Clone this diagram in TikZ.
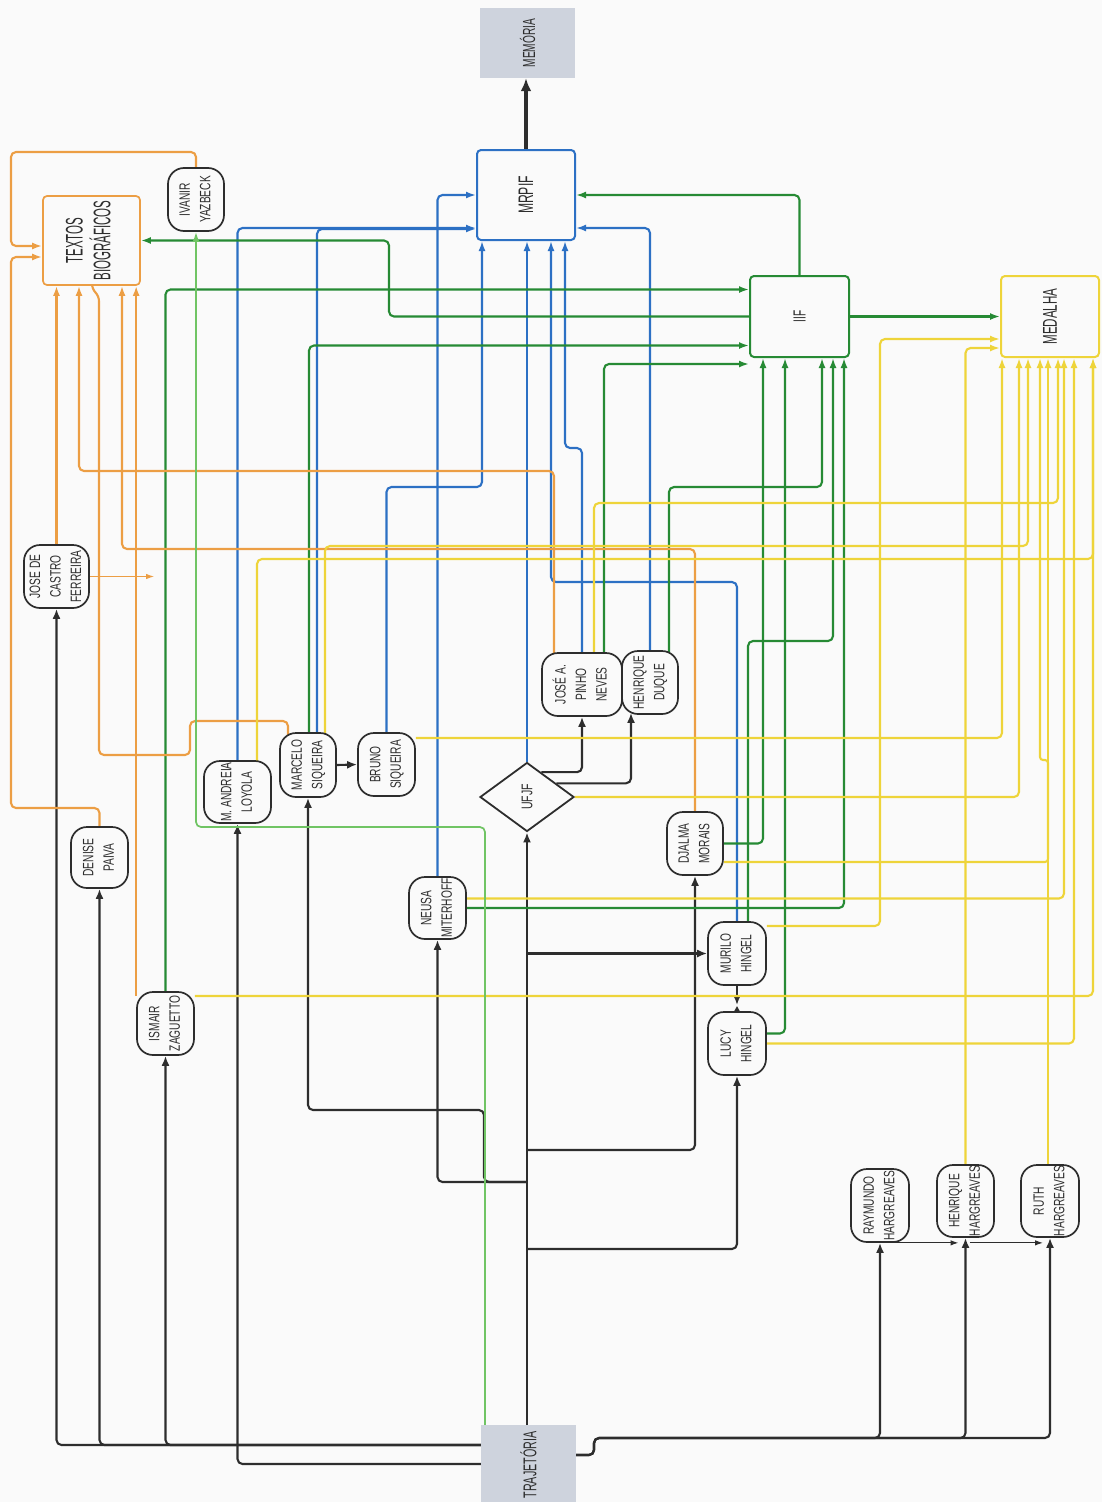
\documentclass[tikz,border=0pt]{standalone}
\usepackage{fontspec}
\setmainfont[FakeStretch=0.68]{Liberation Sans}
\newfontfamily\hubsans[FakeStretch=0.58]{Liberation Sans}
\newfontfamily\narrowsans[FakeStretch=0.48]{Liberation Sans}
\usepackage{graphicx}
\usetikzlibrary{arrows.meta,shapes.geometric,calc}

\definecolor{ink}{RGB}{45,45,45}
\definecolor{cblue}{RGB}{44,112,196}
\definecolor{cgreen}{RGB}{38,138,52}
\definecolor{clight}{RGB}{112,196,100}
\definecolor{corange}{RGB}{236,158,68}
\definecolor{cyellow}{RGB}{238,212,58}
\definecolor{boxgray}{RGB}{206,211,221}
\definecolor{paper}{RGB}{250,250,250}

% two or more lines of text set sideways, reading upwards
\newcommand\vlabel[1]{\rotatebox{90}{\begin{tabular}{@{}c@{}}#1\end{tabular}}}

\pgfdeclarelayer{backdrop}
\pgfdeclarelayer{wires}
\pgfsetlayers{backdrop,wires,main}

\tikzset{
  person/.style={draw=ink, line width=1.7pt, rounded corners=16pt, fill=paper,
    inner sep=0pt, text=ink, font=\fontsize{15}{20.5}\selectfont},
  hub/.style={draw, line width=2pt, rounded corners=4pt, fill=paper,
    inner sep=0pt, text=ink},
  greybox/.style={fill=boxgray, draw=none, inner sep=0pt, text=ink},
  wire/.style={line width=2.1pt, rounded corners=5pt, -{Latex[length=10pt,width=7pt]}},
  bk/.style={wire, draw=ink, -{Latex[length=10pt,width=8pt]}},
  bl/.style={wire, draw=cblue},
  gr/.style={wire, draw=cgreen},
  lg/.style={wire, draw=clight, line width=1.7pt},
  og/.style={wire, draw=corange},
  yl/.style={wire, draw=cyellow},
}

\begin{document}
\begin{tikzpicture}[x=1pt, y=-1pt]
\useasboundingbox (0,0) rectangle (1102,1502);
\begin{pgfonlayer}{backdrop}
  \fill[paper] (0,0) rectangle (1102,1502);
\end{pgfonlayer}

% ---------- hubs ----------
\node[greybox, minimum width=95pt, minimum height=70pt, font=\hubsans\fontsize{17.5}{20}\selectfont]
  (memoria) at (527.5,43) {\rotatebox{90}{MEMÓRIA}};
\node[hub, draw=cblue, minimum width=98pt, minimum height=90pt, font=\hubsans\fontsize{21}{24}\selectfont]
  (mrpif) at (526,195) {\rotatebox{90}{MRPIF}};
\node[hub, draw=corange, line width=1.7pt, minimum width=97pt, minimum height=89pt,
  font=\narrowsans\fontsize{24}{23}\selectfont]
  (textos) at (91.5,240.5) {\vlabel{TEXTOS\\BIOGRÁFICOS}};
\node[hub, draw=cgreen, minimum width=99pt, minimum height=81pt, font=\hubsans\fontsize{17.5}{20}\selectfont]
  (iif) at (799.5,316.5) {\rotatebox{90}{IIF}};
\node[hub, draw=cyellow, minimum width=98pt, minimum height=81pt, font=\hubsans\fontsize{20}{22}\selectfont]
  (medalha) at (1050,316.5) {\rotatebox{90}{MEDALHA}};
\node[diamond, draw=ink, line width=1.8pt, fill=paper, minimum width=94pt, minimum height=69pt,
  inner sep=0pt, text=ink, font=\fontsize{15.5}{18}\selectfont]
  (ufjf) at (527,797) {\rotatebox{90}{UFJF}};
\node[greybox, minimum width=95pt, minimum height=80pt, font=\hubsans\fontsize{18.5}{20}\selectfont]
  (trajetoria) at (528.5,1465) {\rotatebox{90}{TRAJETÓRIA}};

% ---------- people ----------
\node[person, minimum width=56pt, minimum height=63pt] (ivanir) at (196,199.5) {\vlabel{IVANIR\\YAZBECK}};
\node[person, minimum width=65pt, minimum height=63pt] (josecastro) at (56.5,576.5) {\vlabel{JOSE DE\\CASTRO\\FERREIRA}};
\node[person, minimum width=57pt, minimum height=61pt] (denise) at (99.5,857.5) {\vlabel{DENISE\\PAIVA}};
\node[person, minimum width=67pt, minimum height=62pt] (loyola) at (237.5,792) {\vlabel{M. ANDREIA\\LOYOLA}};
\node[person, minimum width=56pt, minimum height=64pt] (marcelo) at (308,765) {\vlabel{MARCELO\\SIQUEIRA}};
\node[person, minimum width=57pt, minimum height=63pt] (bruno) at (386.5,764.5) {\vlabel{BRUNO\\SIQUEIRA}};
\node[person, minimum width=80pt, minimum height=63pt] (josepinho) at (582,684.5) {\vlabel{JOSÉ A.\\PINHO\\NEVES}};
\node[person, minimum width=56pt, minimum height=63pt] (henduque) at (650,682.5) {\vlabel{HENRIQUE\\DUQUE}};
\node[person, minimum width=56pt, minimum height=63pt] (djalma) at (695,843.5) {\vlabel{DJALMA\\MORAIS}};
\node[person, minimum width=57pt, minimum height=62pt] (neusa) at (437.5,908) {\vlabel{NEUSA\\MITERHOFF}};
\node[person, minimum width=57pt, minimum height=63pt] (ismair) at (165.5,1023.5) {\vlabel{ISMAIR\\ZAGUETTO}};
\node[person, minimum width=58pt, minimum height=63pt] (murilo) at (737,953.5) {\vlabel{MURILO\\HINGEL}};
\node[person, minimum width=58pt, minimum height=63pt] (lucy) at (737,1043.5) {\vlabel{LUCY\\HINGEL}};
\node[person, minimum width=58pt, minimum height=73pt] (raymundo) at (880,1205.5) {\vlabel{RAYMUNDO\\HARGREAVES}};
\node[person, minimum width=57pt, minimum height=72pt] (henriqueh) at (965.5,1201) {\vlabel{HENRIQUE\\HARGREAVES}};
\node[person, minimum width=58pt, minimum height=72pt] (ruth) at (1050,1201) {\vlabel{RUTH\\HARGREAVES}};

\coordinate (castrotip) at (154,576.5);

\begin{pgfonlayer}{wires}
% ---------- black: trajectory tree ----------
\draw[bk, line width=3.2pt, -{Latex[length=13pt,width=11pt]}] (mrpif.north) -- (mrpif.north |- memoria.south);
\draw[bk] (trajetoria.west |- 0,1445) -| (josecastro.south);
\draw[bk] (trajetoria.west |- 0,1445) -| (denise.south);
\draw[bk] (trajetoria.west |- 0,1445) -| (ismair.south);
\draw[bk] (trajetoria.west |- 0,1464) -| (loyola.south);
\draw[bk] (ufjf.south |- trajetoria.north) -- (ufjf.south);
\draw[bk] (ufjf.south |- 0,1182) -| (neusa.south);
\draw[bk] (ufjf.south |- 0,1182) -- (484,1182) -- (484,1110) -| (marcelo.south);
\draw[bk] (ufjf.south |- murilo.west) -- (murilo.west);
\draw[bk] (ufjf.south |- 0,1150) -| (djalma.south);
\draw[bk] (ufjf.south |- 0,1249) -| (lucy.south);
\draw[bk] (ufjf.60) -| (josepinho.south);
\draw[bk] (ufjf.25) -| ([xshift=-19pt,yshift=2pt]henduque.south);
\draw[bk] (marcelo.east) -- (bruno.west);
\draw[bk] (murilo.south) -- ([yshift=6pt]lucy.north);
\fill[ink] ([xshift=-4.5pt,yshift=-3pt]lucy.north) -- ([xshift=4.5pt,yshift=-3pt]lucy.north)
  -- ([yshift=5pt]lucy.north) -- cycle;
\draw[bk] (trajetoria.east |- 0,1455) -- (594,1455) -- (594,1438) -| (raymundo.south);
\draw[bk] (trajetoria.east |- 0,1455) -- (594,1455) -- (594,1438) -| (henriqueh.south);
\draw[bk] (trajetoria.east |- 0,1455) -- (594,1455) -- (594,1438) -| (ruth.south);
\draw[bk, line width=1.1pt, -{Latex[length=8pt,width=5.5pt]}]
  ($(raymundo.south)+(4,0)$) -- ($(henriqueh.south |- raymundo.south)+(-7,0)$);
\draw[bk, line width=1.1pt, -{Latex[length=8pt,width=5.5pt]}]
  ($(henriqueh.south |- raymundo.south)+(4,0)$) -- ($(ruth.south |- raymundo.south)+(-7,0)$);

% ---------- blue: into MRPIF ----------
\draw[bl] (ufjf.north) -- (ufjf.north |- mrpif.south);
\draw[bl] (neusa.north) |- (mrpif.west);
\draw[bl] (loyola.north) |- ([yshift=-33pt]mrpif.west);
\draw[bl] ([xshift=9pt]marcelo.north) |- ([yshift=-34pt]mrpif.west);
\draw[bl] (bruno.north) -- (bruno.north |- 0,487) -| ([xshift=-44pt]mrpif.south);
\draw[bl] (murilo.north) -- (murilo.north |- 0,582) -| ([xshift=25pt]mrpif.south);
\draw[bl] (josepinho.north) -- (582,448) -- (565,448) -- ([xshift=39pt]mrpif.south);
\draw[bl] (henduque.north) |- ([yshift=-33pt]mrpif.east);

% ---------- dark green: IIF ----------
\draw[gr] (iif.north) |- (mrpif.east);
\draw[gr] (iif.east) -- (medalha.west);
\draw[gr] (iif.west) -- (iif.west -| 389,0) -- (textos.east -| 389,0) -- (textos.east);
\draw[gr] (ismair.north) |- ([yshift=27pt]iif.west);
\draw[gr] ([xshift=1pt]marcelo.north) |- ([yshift=-29pt]iif.west);
\draw[gr] ([xshift=22pt]josepinho.north) |- ([yshift=-6pt]iif.south west);
\draw[gr] ([xshift=19pt,yshift=-3pt]henduque.north) -- ([xshift=19pt]henduque.north |- 0,487) -| ([xshift=22.5pt]iif.south);
\draw[gr] (djalma.east) -| ([xshift=-36.5pt]iif.south);
\draw[gr] ([yshift=10pt]lucy.east) -| ([xshift=-14.5pt]iif.south);
\draw[gr] ([xshift=11pt]murilo.north) -- ([xshift=11pt]murilo.north |- 0,641) -| ([xshift=33.5pt]iif.south);
\draw[gr] (neusa.east) -| ([xshift=44.5pt]iif.south);

% ---------- orange: TEXTOS BIOGRAFICOS ----------
\draw[og] (ivanir.north) -- (ivanir.north |- 0,152) -- (11,152) -- (11,246) -- ([yshift=-5.5pt]textos.west);
\draw[og] (denise.north) -- (denise.north |- 0,808) -- (11,808) -- (11,257) -- ([yshift=-16.5pt]textos.west);
\draw[og] (josecastro.north) -- (josecastro.north |- textos.south);
\draw[og, line width=0.9pt, -{Latex[length=8pt,width=5.5pt]}] (josecastro.east) -- (castrotip);
\draw[og] ([xshift=-28pt,yshift=-3pt]josepinho.north) -- (554,471) -| ([xshift=-12.5pt]textos.south);
\draw[og] ([xshift=-20pt,yshift=-4pt]marcelo.north) -- (288,721) -- (190,721) -- (190,755) -- (99,755)
  -- (99,296) -- (92,289) -- (textos.south -| 92,0);
\draw[og] (djalma.north) -- (djalma.north |- 0,549) -| ([xshift=30.5pt]textos.south);
\draw[og] ([yshift=-5pt]ismair.north west) -- (ismair.north west |- textos.south);

% ---------- yellow: MEDALHA ----------
\draw[yl] ([yshift=27.5pt]murilo.east) -- (880,926) -- (880,339) -- ([yshift=-22.5pt]medalha.west);
\draw[yl] (henriqueh.north) |- ([yshift=-31.5pt]medalha.west);
\draw[yl] ([yshift=26.5pt]bruno.east) -| ([xshift=-48pt]medalha.south);
\draw[yl] (ufjf.east) -| ([xshift=-31pt]medalha.south);
\draw[yl] ([xshift=17pt,yshift=-2pt]marcelo.north) -- ([xshift=17pt]marcelo.north |- 0,546) -| ([xshift=-22pt]medalha.south);
\draw[yl] ([xshift=19.5pt,yshift=-3pt]loyola.north) -- ([xshift=19.5pt]loyola.north |- 0,559) -| ([xshift=43pt]medalha.south);
\draw[yl] ([yshift=27.5pt]ismair.east) -| ([xshift=43pt]medalha.south);
\draw[yl] ([xshift=12pt]josepinho.north) -- ([xshift=12pt]josepinho.north |- 0,503) -| ([xshift=8pt]medalha.south);
\draw[yl, rounded corners=3pt] ([yshift=-18.5pt]djalma.east) -- (1048,862) -- (1048,760) -- (1040,760) -- ([xshift=-10pt]medalha.south);
\draw[yl] ([xshift=-2pt]ruth.north) -- ([xshift=-2pt]medalha.south);
\draw[yl] ([yshift=9.5pt]neusa.east) -| ([xshift=14pt]medalha.south);
\draw[yl] (lucy.east) -| ([xshift=24pt]medalha.south);

% ---------- light green: IVANIR ----------
\draw[lg] ([xshift=-43.5pt]trajetoria.north) -- ([xshift=-43.5pt]trajetoria.north |- 0,827) -| (ivanir.south);
\end{pgfonlayer}
\end{tikzpicture}
\end{document}
